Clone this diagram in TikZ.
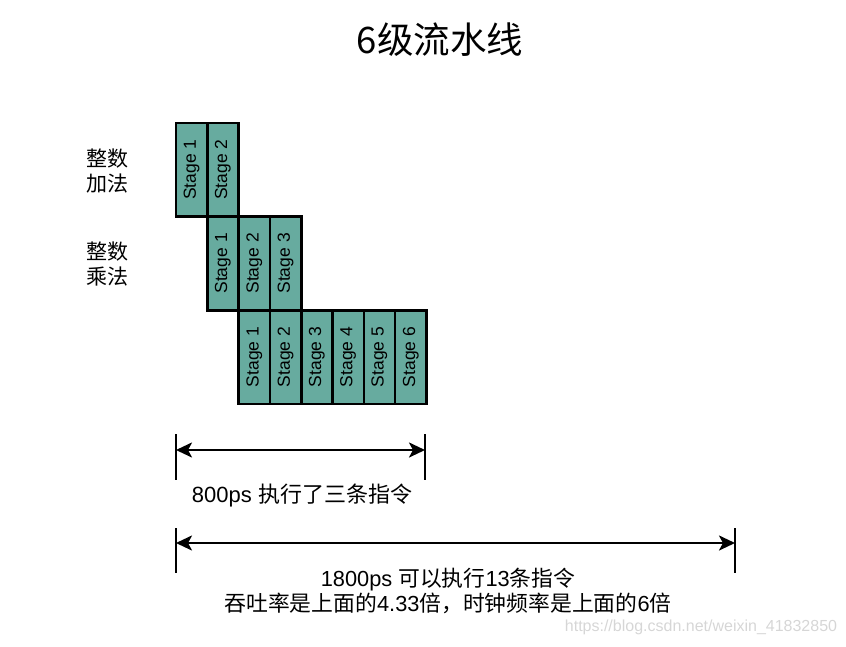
\documentclass[tikz,border=0pt]{standalone}
\usepackage{fontspec}
\setmainfont{Liberation Sans}
\newfontfamily\cjk{Noto Sans CJK SC}
\usetikzlibrary{arrows.meta}

\definecolor{stagegreen}{HTML}{67AB9F}
\definecolor{marklight}{HTML}{D6D6D6}

\tikzset{
  stagebox/.style={draw=black, line width=2.6pt, fill=stagegreen, rotate=90,
    minimum width=93.6pt, minimum height=31.3pt, inner sep=0pt,
    font=\fontsize{17.5}{20}\selectfont},
  tick/.style={line width=2.6pt},
  span/.style={line width=2.6pt, {Stealth[length=16pt,width=15pt,inset=4pt]}-{Stealth[length=16pt,width=15pt,inset=4pt]}},
  cjklabel/.style={align=center, font=\cjk\fontsize{21}{24.5}\selectfont},
}

\begin{document}
\begin{tikzpicture}[x=1pt,y=-1pt]
  \useasboundingbox (0,0) rectangle (846,646);

  \def\bw{31.3}
  \def\bh{93.6}

  \node[font=\cjk\fontsize{36.5}{42}\selectfont] (title) at (440,40) {6级流水线};

  \node[cjklabel] (add) at (107,171) {整数\\加法};
  \node[cjklabel] (mul) at (107,264) {整数\\乘法};

  % stages, row / first column / count
  \foreach \row/\first/\n in {1/0/2, 2/1/3, 3/2/6}
    \foreach \s in {1,...,\n}
      \node[stagebox] (r\row s\s) at ({176+(\first+\s-0.5)*\bw},{123+(\row-0.5)*\bh}) {Stage \s};

  \coordinate (a1top) at (176,434);  \coordinate (a1bot) at (176,480);
  \coordinate (b1top) at (425,434);  \coordinate (b1bot) at (425,480);
  \coordinate (a1) at (176,450);     \coordinate (b1) at (425,450);
  \draw[tick] (a1top) -- (a1bot);
  \draw[tick] (b1top) -- (b1bot);
  \draw[span] (a1) -- (b1);
  \node[font=\fontsize{22}{26}\selectfont] (t1) at (302,495) {800ps {\cjk 执行了三条指令}};

  \coordinate (a2top) at (176,528);  \coordinate (a2bot) at (176,573);
  \coordinate (b2top) at (735,528);  \coordinate (b2bot) at (735,573);
  \coordinate (a2) at (176,543);     \coordinate (b2) at (735,543);
  \draw[tick] (a2top) -- (a2bot);
  \draw[tick] (b2top) -- (b2bot);
  \draw[span] (a2) -- (b2);
  \node[align=center, font=\fontsize{21.8}{25.5}\selectfont] (t2) at (448,591)
    {1800ps {\cjk 可以执行}13{\cjk 条指令}\\{\cjk 吞吐率是上面的}4.33{\cjk 倍，时钟频率是上面的}6{\cjk 倍}};

  \node[text=marklight, font=\fontsize{16}{19}\selectfont] (mark) at (701,627) {https://blog.csdn.net/weixin\_41832850};
\end{tikzpicture}
\end{document}
